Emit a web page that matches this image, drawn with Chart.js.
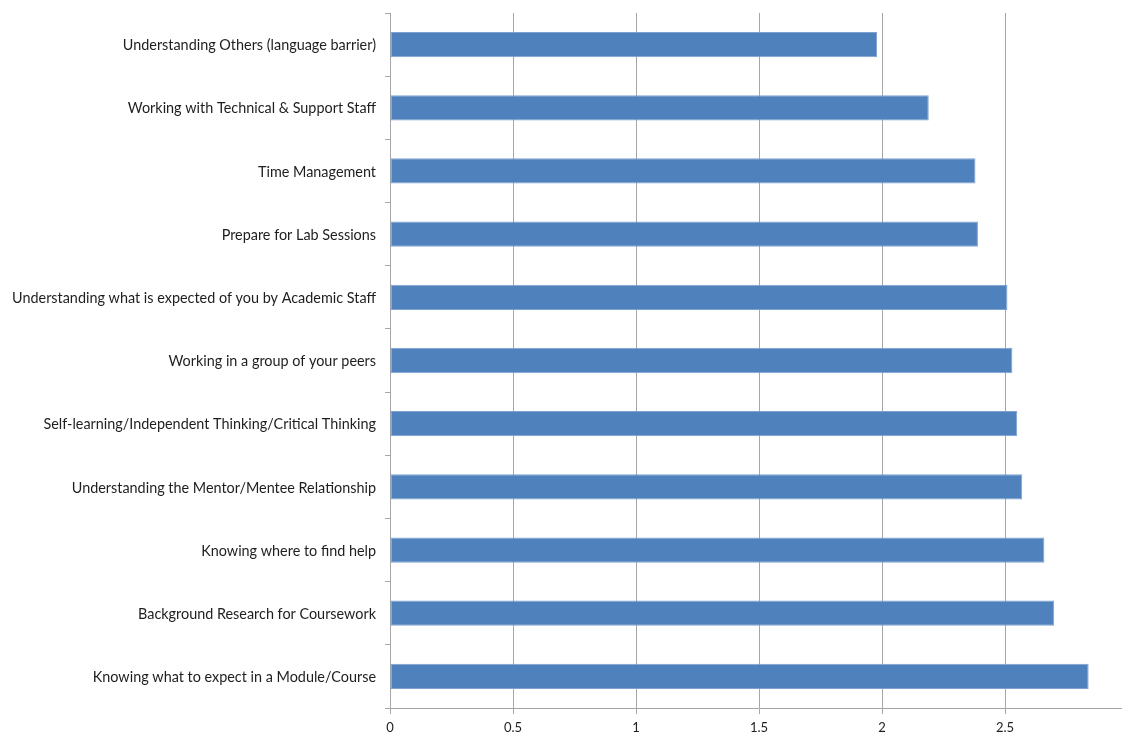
<!DOCTYPE html>
<html>
<head>
<meta charset="utf-8">
<script src="https://cdn.jsdelivr.net/npm/chart.js@4"></script>
<style>
  html, body { margin: 0; padding: 0; background: #fff; overflow: hidden; }
  #wrap { position: absolute; left: 0; top: 0; width: 1128px; height: 733px; }
</style>
</head>
<body>
<div id="wrap"><canvas id="skills-chart"></canvas></div>
<script>
// Категории (сверху вниз)
const skills = [
  'Understanding Others (language barrier)',
  'Working with Technical & Support Staff',
  'Time Management',
  'Prepare for Lab Sessions',
  'Understanding what is expected of you by Academic Staff',
  'Working in a group of your peers',
  'Self-learning/Independent Thinking/Critical Thinking',
  'Understanding the Mentor/Mentee Relationship',
  'Knowing where to find help',
  'Background Research for Coursework',
  'Knowing what to expect in a Module/Course',
];

// Средние оценки
const scores = [1.98, 2.19, 2.38, 2.39, 2.51, 2.53, 2.55, 2.57, 2.66, 2.70, 2.84];

// Подписи оси X
const xTicks = [0, 0.5, 1, 1.5, 2, 2.5, 3];

const gridColor = '#a6a6a6';
const textColor = '#1e1e1e';

const ctx = document.getElementById('skills-chart').getContext('2d');

new Chart(ctx, {
  type: 'bar',
  data: {
    labels: skills,
    datasets: [
      {
        data: scores,
        backgroundColor: '#4f81bd',
        borderColor: '#7da2d2',
        borderWidth: 1,
        borderSkipped: false,
        categoryPercentage: 1,
        barPercentage: 0.4,
      },
    ],
  },
  options: {
    indexAxis: 'y',
    responsive: true,
    maintainAspectRatio: false,
    animation: false,
    layout: { padding: { top: 13, right: 0, bottom: 0, left: 0 } },
    plugins: {
      legend: { display: false },
      tooltip: { enabled: false },
    },
    scales: {
      x: {
        min: 0,
        max: 3,
        afterBuildTicks: (scale) => {
          scale.ticks = xTicks.map((v) => ({ value: v }));
        },
        afterFit: (scale) => {
          scale.height = 25;
          scale.paddingLeft = 0;
          scale.paddingRight = 0;
        },
        grid: {
          color: gridColor,
          tickLength: 6,
          lineWidth: 1,
        },
        border: { color: gridColor },
        ticks: {
          color: textColor,
          padding: 6,
          font: { family: 'Lato', size: 13 },
          callback: (v) => String(v),
        },
      },
      y: {
        afterFit: (scale) => {
          scale.width = 390;
          scale.paddingTop = 0;
          scale.paddingBottom = 0;
        },
        grid: {
          offset: true,
          drawOnChartArea: false,
          color: gridColor,
          tickLength: 5,
        },
        border: { color: gridColor },
        ticks: {
          color: textColor,
          padding: 9,
          labelOffset: 1,
          font: { family: 'Lato', size: 14.4 },
        },
      },
    },
  },
});
</script>
</body>
</html>
